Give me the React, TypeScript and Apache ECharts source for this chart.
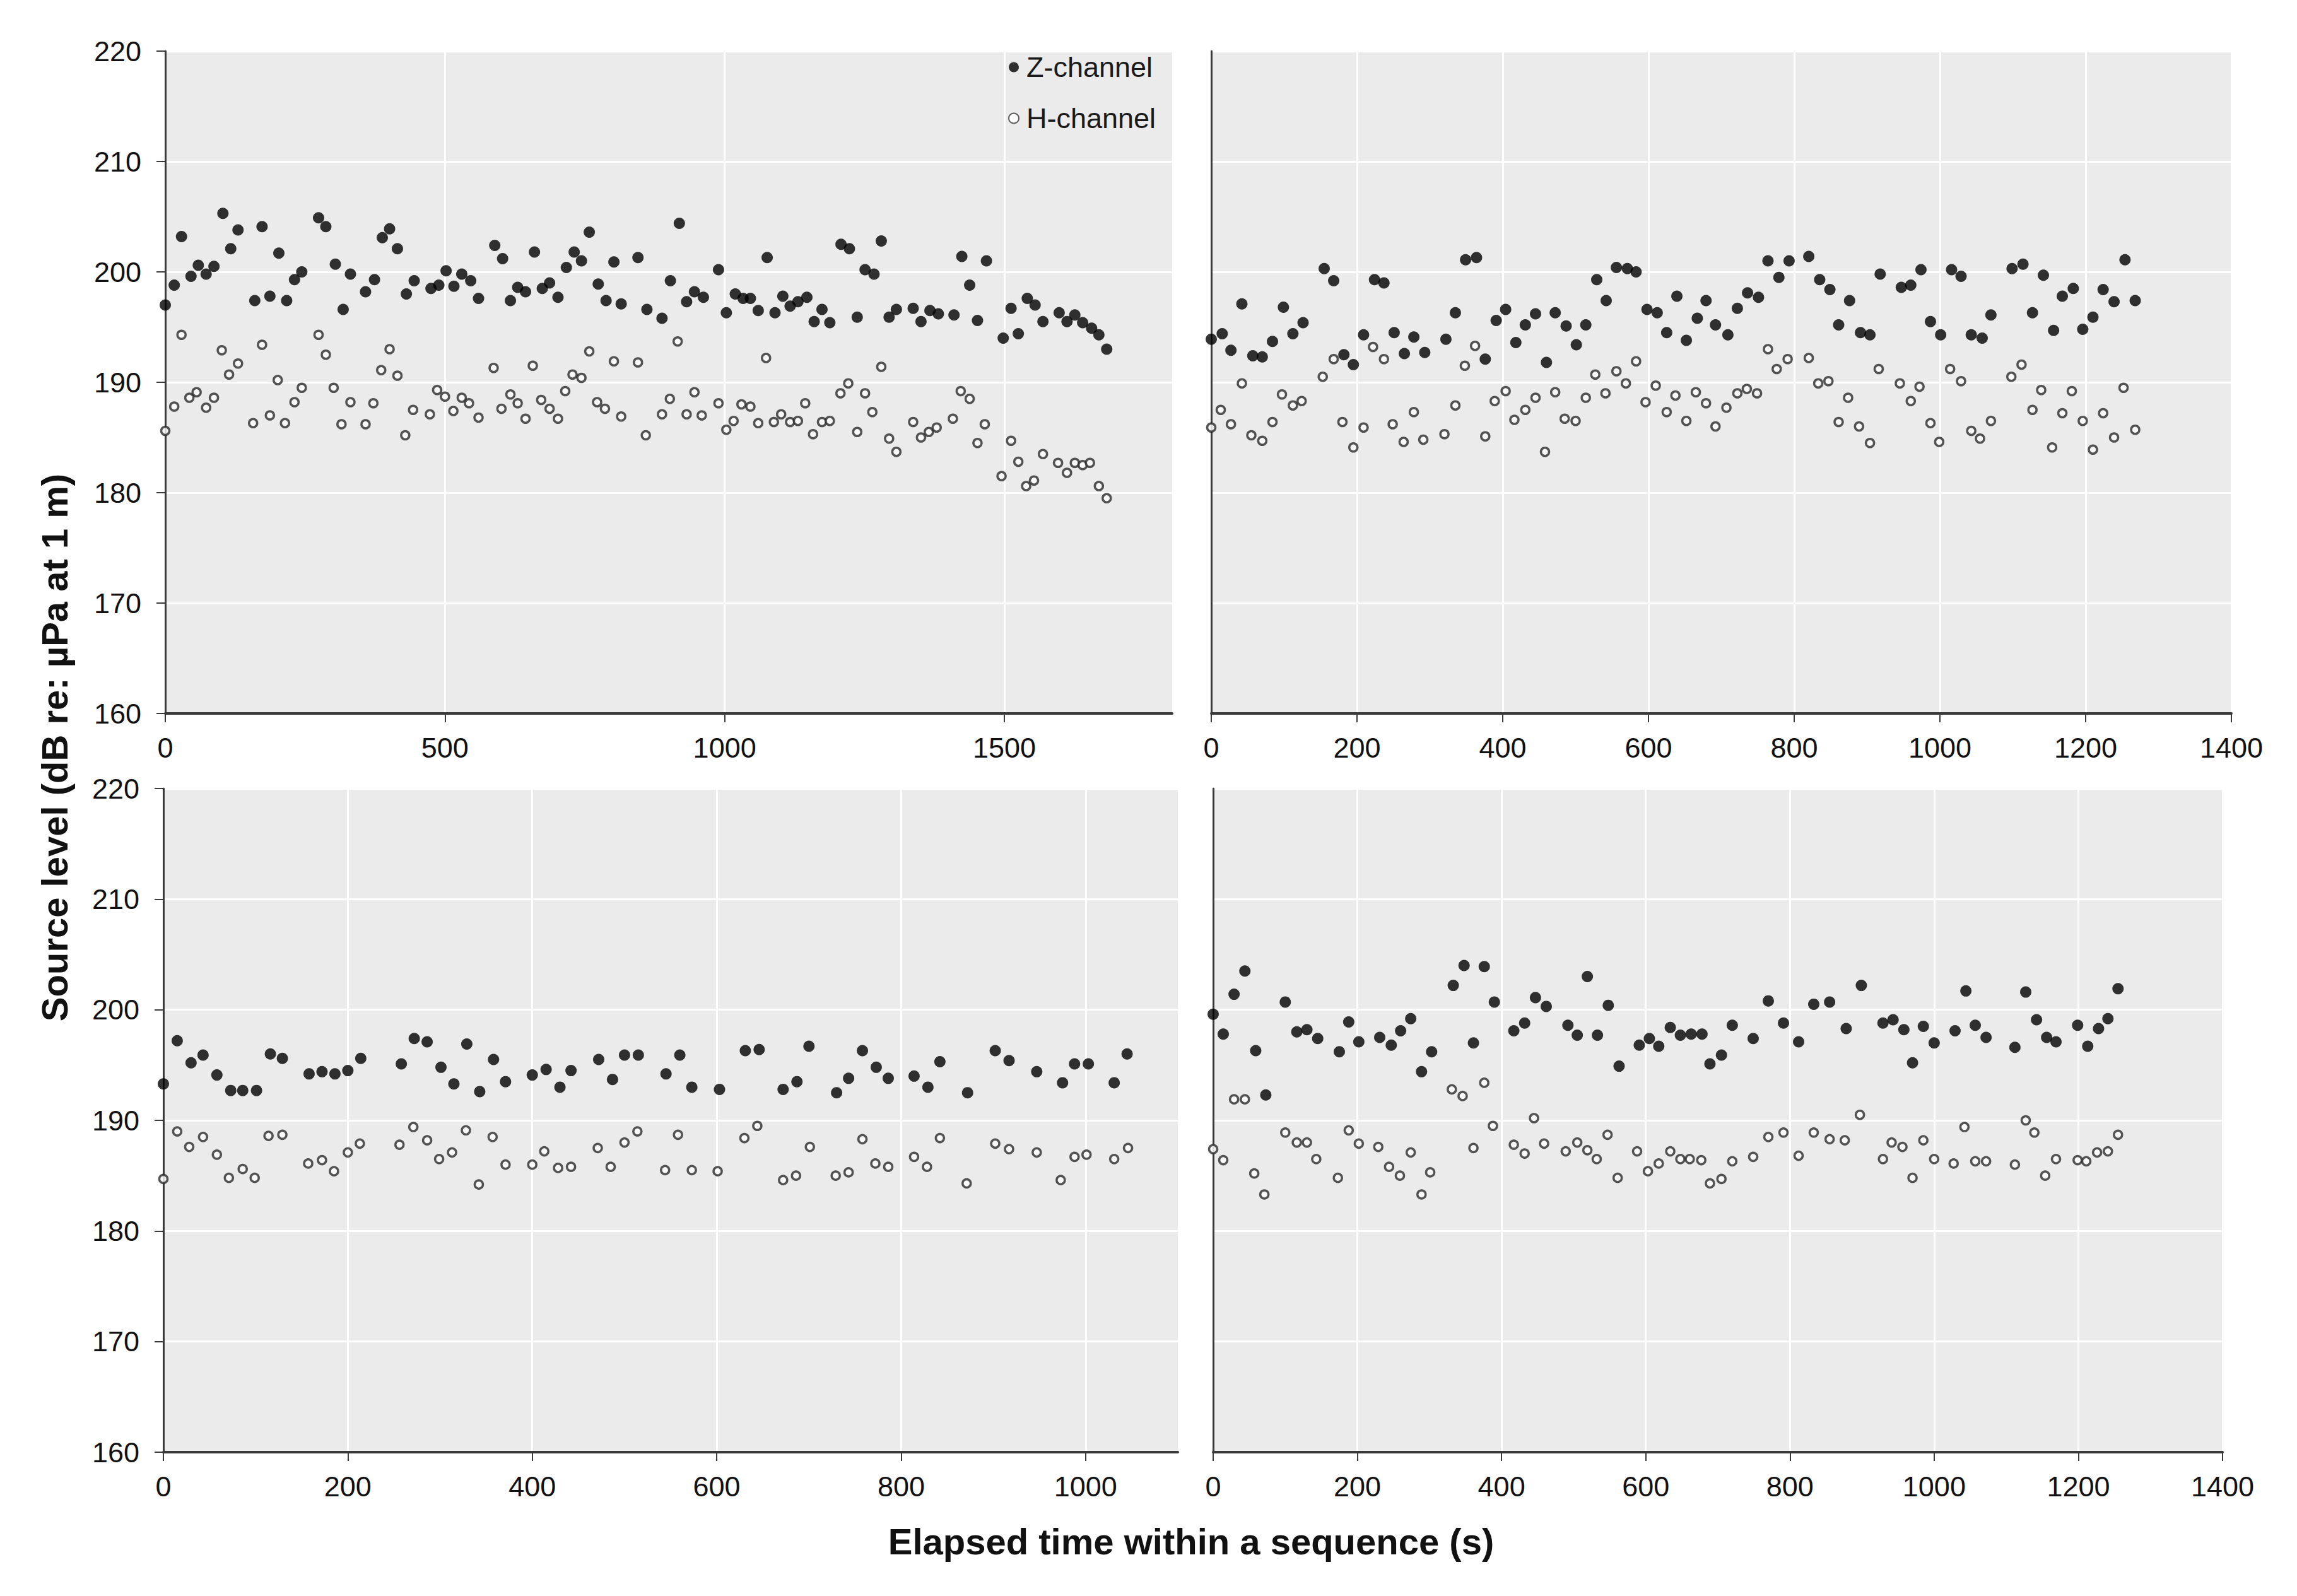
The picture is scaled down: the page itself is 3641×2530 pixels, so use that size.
import React, { useEffect, useRef } from 'react';
import * as echarts from 'echarts';

const FONT = '"Liberation Sans", Arial, Helvetica, sans-serif';

// Tick values
const yTicks = [160, 170, 180, 190, 200, 210, 220];
const xTicksTopLeft = [0, 500, 1000, 1500];
const xTicksTopRight = [0, 200, 400, 600, 800, 1000, 1200, 1400];
const xTicksBottomLeft = [0, 200, 400, 600, 800, 1000];
const xTicksBottomRight = [0, 200, 400, 600, 800, 1000, 1200, 1400];

const seriesNames = ['Z-channel', 'H-channel'];
const xTitle = 'Elapsed time within a sequence (s)';
const yTitle = 'Source level (dB re: µPa at 1 m)';

// Panel 1 (top-left)
const zTopLeft: [number, number][] = [
  [0,197.0],[16,198.8],[29,203.2],[46,199.6],[59,200.6],[73,199.8],[87,200.5],[103,205.3],[117,202.1],[130,203.8],[160,197.4],[173,204.1],[187,197.8],[203,201.7],[217,197.4],[231,199.3],[244,200.0],[274,204.9],[287,204.1],[304,200.7],[318,196.6],[331,199.8],[358,198.2],[374,199.3],[388,203.1],[401,203.9],[415,202.1],[431,198.0],[445,199.2],[475,198.5],[489,198.8],[502,200.1],[516,198.7],[530,199.8],[546,199.2],[560,197.6],[589,202.4],[603,201.2],[617,197.4],[630,198.6],[644,198.2],[660,201.8],[674,198.5],[687,199.0],[702,197.7],[717,200.4],[731,201.8],[744,201.0],[758,203.6],[774,198.9],[788,197.4],[802,200.9],[815,197.1],[845,201.3],[861,196.6],[888,195.8],[903,199.2],[919,204.4],[932,197.3],[946,198.2],[962,197.7],[989,200.2],[1003,196.3],[1019,198.0],[1033,197.6],[1046,197.6],[1060,196.5],[1076,201.3],[1090,196.3],[1104,197.8],[1117,196.9],[1131,197.3],[1147,197.7],[1160,195.5],[1174,196.6],[1188,195.4],[1208,202.5],[1223,202.1],[1237,195.9],[1251,200.2],[1267,199.8],[1280,202.8],[1294,195.9],[1307,196.6],[1337,196.7],[1351,195.5],[1367,196.5],[1382,196.2],[1410,196.1],[1424,201.4],[1438,198.8],[1452,195.6],[1468,201.0],[1498,194.0],[1512,196.7],[1525,194.4],[1541,197.6],[1555,197.0],[1569,195.5],[1598,196.3],[1612,195.5],[1626,196.1],[1640,195.4],[1656,194.9],[1669,194.3],[1683,193.0]
];
const hTopLeft: [number, number][] = [
  [0,185.6],[16,187.8],[29,194.3],[43,188.6],[56,189.1],[73,187.7],[87,188.6],[101,192.9],[114,190.7],[130,191.7],[157,186.3],[173,193.4],[187,187.0],[201,190.2],[214,186.3],[231,188.2],[244,189.5],[274,194.3],[287,192.5],[301,189.5],[315,186.2],[331,188.2],[358,186.2],[372,188.1],[386,191.1],[401,193.0],[415,190.6],[429,185.2],[443,187.5],[473,187.1],[486,189.3],[500,188.7],[515,187.4],[530,188.6],[543,188.1],[560,186.8],[587,191.3],[601,187.6],[617,188.9],[630,188.1],[644,186.7],[657,191.5],[672,188.4],[687,187.6],[702,186.7],[715,189.2],[728,190.7],[744,190.4],[758,192.8],[772,188.2],[786,187.6],[802,191.9],[815,186.9],[845,191.8],[859,185.2],[888,187.1],[902,188.5],[916,193.7],[932,187.1],[946,189.1],[959,187.0],[989,188.1],[1003,185.7],[1016,186.5],[1030,188.0],[1046,187.8],[1060,186.3],[1074,192.2],[1088,186.4],[1101,187.1],[1117,186.4],[1131,186.5],[1144,188.1],[1158,185.3],[1174,186.4],[1188,186.5],[1207,189.0],[1221,189.9],[1237,185.5],[1251,189.0],[1264,187.3],[1280,191.4],[1294,184.9],[1307,183.7],[1337,186.4],[1351,185.0],[1365,185.5],[1379,185.9],[1408,186.7],[1422,189.2],[1438,188.5],[1452,184.5],[1465,186.2],[1495,181.5],[1512,184.7],[1525,182.8],[1539,180.6],[1553,181.1],[1569,183.5],[1596,182.7],[1612,181.8],[1626,182.7],[1640,182.5],[1653,182.7],[1669,180.6],[1683,179.5]
];

// Panel 2 (top-right)
const zTopRight: [number, number][] = [
  [0,193.9],[15,194.4],[27,192.9],[42,197.1],[57,192.4],[70,192.3],[84,193.7],[99,196.8],[112,194.4],[126,195.4],[155,200.3],[168,199.2],[182,192.5],[195,191.6],[209,194.3],[224,199.3],[237,199.0],[251,194.5],[265,192.6],[278,194.1],[293,192.7],[322,193.9],[335,196.3],[349,201.1],[364,201.3],[376,192.1],[391,195.6],[404,196.6],[418,193.6],[431,195.2],[445,196.2],[460,191.8],[472,196.3],[487,195.1],[501,193.4],[514,195.2],[529,199.3],[542,197.4],[556,200.4],[571,200.3],[583,200.0],[598,196.6],[612,196.3],[625,194.5],[639,197.8],[652,193.8],[667,195.8],[679,197.4],[692,195.2],[709,194.3],[722,196.7],[736,198.1],[751,197.7],[764,201.0],[779,199.5],[793,201.0],[820,201.4],[835,199.3],[849,198.4],[861,195.2],[876,197.4],[891,194.5],[904,194.3],[918,199.8],[947,198.6],[960,198.8],[974,200.2],[987,195.5],[1001,194.3],[1016,200.2],[1029,199.6],[1043,194.3],[1058,194.0],[1070,196.1],[1099,200.3],[1114,200.7],[1127,196.3],[1142,199.7],[1156,194.7],[1168,197.8],[1183,198.5],[1196,194.8],[1210,195.9],[1224,198.4],[1239,197.3],[1254,201.1],[1268,197.4]
];
const hTopRight: [number, number][] = [
  [0,185.9],[13,187.5],[27,186.2],[42,189.9],[55,185.2],[70,184.7],[84,186.4],[97,188.9],[112,187.9],[124,188.3],[153,190.5],[168,192.1],[180,186.4],[195,184.1],[209,185.9],[222,193.2],[237,192.1],[249,186.2],[264,184.6],[278,187.3],[291,184.8],[320,185.3],[335,187.9],[348,191.5],[362,193.3],[376,185.1],[389,188.3],[404,189.2],[416,186.6],[431,187.5],[445,188.6],[458,183.7],[472,189.1],[485,186.7],[500,186.5],[514,188.6],[527,190.7],[541,189.0],[556,191.0],[569,189.9],[583,191.9],[596,188.2],[610,189.7],[625,187.3],[637,188.8],[652,186.5],[665,189.1],[679,188.1],[692,186.0],[707,187.7],[722,189.0],[735,189.4],[749,189.0],[764,193.0],[776,191.2],[791,192.1],[820,192.2],[833,189.9],[847,190.1],[861,186.4],[874,188.6],[889,186.0],[904,184.5],[916,191.2],[945,189.9],[960,188.3],[972,189.6],[987,186.3],[999,184.6],[1014,191.2],[1029,190.1],[1043,185.6],[1055,184.9],[1070,186.5],[1098,190.5],[1112,191.6],[1127,187.5],[1139,189.3],[1154,184.1],[1168,187.2],[1181,189.2],[1196,186.5],[1210,183.9],[1224,187.2],[1239,185.0],[1252,189.5],[1268,185.7]
];

// Panel 3 (bottom-left)
const zBottomLeft: [number, number][] = [
  [0,193.3],[15,197.2],[30,195.2],[43,195.9],[58,194.1],[73,192.7],[86,192.7],[101,192.7],[116,196.0],[129,195.6],[158,194.2],[172,194.4],[186,194.2],[200,194.5],[214,195.6],[258,195.1],[272,197.4],[286,197.1],[301,194.8],[315,193.3],[329,196.9],[343,192.6],[358,195.5],[371,193.5],[400,194.1],[415,194.6],[430,193.0],[442,194.5],[472,195.5],[487,193.7],[500,195.9],[515,195.9],[545,194.2],[560,195.9],[573,193.0],[603,192.8],[631,196.3],[646,196.4],[672,192.8],[687,193.5],[700,196.7],[730,192.5],[743,193.8],[758,196.3],[773,194.8],[786,193.8],[814,194.0],[829,193.0],[842,195.3],[872,192.5],[902,196.3],[917,195.4],[947,194.4],[975,193.4],[988,195.1],[1003,195.1],[1031,193.4],[1045,196.0]
];
const hBottomLeft: [number, number][] = [
  [0,184.7],[15,189.0],[28,187.6],[43,188.5],[58,186.9],[71,184.8],[86,185.6],[99,184.8],[114,188.6],[129,188.7],[157,186.1],[172,186.4],[185,185.4],[200,187.1],[213,187.9],[256,187.8],[271,189.4],[286,188.2],[299,186.5],[313,187.1],[328,189.1],[342,184.2],[357,188.5],[371,186.0],[400,186.0],[413,187.2],[428,185.7],[442,185.8],[471,187.5],[485,185.8],[500,188.0],[514,189.0],[544,185.5],[558,188.7],[573,185.5],[601,185.4],[630,188.4],[644,189.5],[672,184.6],[686,185.0],[701,187.6],[729,185.0],[743,185.3],[758,188.3],[772,186.1],[786,185.8],[814,186.7],[828,185.8],[842,188.4],[871,184.3],[902,187.9],[917,187.4],[947,187.1],[973,184.6],[988,186.7],[1001,186.9],[1031,186.5],[1046,187.5]
];

// Panel 4 (bottom-right)
const zBottomRight: [number, number][] = [
  [0,199.6],[14,197.8],[29,201.4],[44,203.5],[59,196.3],[73,192.3],[100,200.7],[116,198.0],[130,198.2],[145,197.4],[175,196.2],[188,198.9],[202,197.1],[231,197.5],[247,196.8],[260,198.1],[274,199.2],[289,194.4],[303,196.2],[333,202.2],[348,204.0],[361,197.0],[376,203.9],[390,200.7],[417,198.1],[432,198.8],[447,201.1],[462,200.3],[492,198.6],[505,197.7],[519,203.0],[533,197.7],[548,200.4],[563,194.9],[591,196.8],[605,197.4],[618,196.7],[634,198.4],[648,197.7],[663,197.8],[678,197.8],[689,195.1],[705,195.9],[720,198.6],[749,197.4],[770,200.8],[791,198.8],[812,197.1],[833,200.5],[855,200.7],[878,198.3],[899,202.2],[929,198.8],[943,199.1],[958,198.2],[970,195.2],[985,198.5],[1000,197.0],[1029,198.1],[1044,201.7],[1057,198.6],[1072,197.5],[1112,196.6],[1127,201.6],[1142,199.1],[1156,197.5],[1169,197.1],[1199,198.6],[1213,196.7],[1228,198.3],[1241,199.2],[1255,201.9]
];
const hBottomRight: [number, number][] = [
  [0,187.4],[14,186.4],[29,191.9],[44,191.9],[57,185.2],[71,183.3],[100,188.9],[116,188.0],[130,188.0],[143,186.5],[173,184.8],[188,189.1],[202,187.9],[229,187.6],[244,185.8],[259,185.0],[274,187.1],[289,183.3],[301,185.3],[331,192.8],[346,192.2],[361,187.5],[376,193.4],[388,189.5],[417,187.8],[432,187.0],[445,190.2],[459,187.9],[489,187.2],[505,188.0],[519,187.3],[532,186.5],[547,188.7],[561,184.8],[588,187.2],[603,185.4],[618,186.1],[634,187.2],[648,186.5],[661,186.5],[677,186.4],[689,184.3],[705,184.7],[720,186.3],[749,186.7],[770,188.5],[791,188.9],[812,186.8],[833,188.9],[855,188.3],[876,188.2],[897,190.5],[929,186.5],[941,188.0],[956,187.6],[970,184.8],[985,188.2],[1000,186.5],[1027,186.1],[1042,189.4],[1057,186.3],[1072,186.3],[1112,186.0],[1127,190.0],[1139,188.9],[1154,185.0],[1169,186.5],[1199,186.4],[1211,186.3],[1226,187.1],[1241,187.2],[1255,188.7]
];

const AXIS_COLOR = '#3a3a3a';
const LABEL_COLOR = '#111111';
const plainNumber = (v: number) => String(v);

function makeXAxis(gridIndex: number, max: number, interval: number, ticks: number[]) {
  return {
    type: 'value',
    gridIndex,
    min: 0,
    max,
    interval,
    axisLine: { show: true, onZero: false, lineStyle: { color: AXIS_COLOR, width: 4 } },
    axisTick: { show: true, length: 14, customValues: ticks, lineStyle: { color: AXIS_COLOR, width: 2 } },
    axisLabel: { customValues: ticks, formatter: plainNumber, fontSize: 45, fontFamily: FONT, color: LABEL_COLOR, margin: 32 },
    splitLine: { show: true, lineStyle: { color: '#ffffff', width: 3 } },
  };
}

function makeYAxis(gridIndex: number, showLabels: boolean) {
  return {
    type: 'value',
    gridIndex,
    min: yTicks[0],
    max: yTicks[yTicks.length - 1],
    interval: 10,
    axisLine: { show: true, onZero: false, lineStyle: { color: AXIS_COLOR, width: 3 } },
    axisTick: { show: showLabels, length: 14, lineStyle: { color: AXIS_COLOR, width: 2 } },
    axisLabel: { show: showLabels, formatter: plainNumber, fontSize: 45, fontFamily: FONT, color: LABEL_COLOR, margin: 38 },
    splitLine: { show: true, lineStyle: { color: '#ffffff', width: 3 } },
  };
}

function zSeries(data: [number, number][], idx: number) {
  return {
    type: 'scatter',
    name: seriesNames[0],
    xAxisIndex: idx,
    yAxisIndex: idx,
    data,
    symbol: 'circle',
    symbolSize: 18,
    itemStyle: { color: '#000000' },
    z: 3,
  };
}

function hSeries(data: [number, number][], idx: number) {
  return {
    type: 'scatter',
    name: seriesNames[1],
    xAxisIndex: idx,
    yAxisIndex: idx,
    data,
    symbol: 'circle',
    symbolSize: 13,
    itemStyle: { color: '#ffffff', borderColor: '#2a2a2a', borderWidth: 3.5 },
    z: 3,
  };
}

export default function App() {
  const ref = useRef<HTMLDivElement>(null);

  useEffect(() => {
    if (!ref.current) return;
    const chart = echarts.init(ref.current, undefined, { renderer: 'svg' });
    const gridBase = { show: true, backgroundColor: '#ebebeb', borderWidth: 0, containLabel: false };
    chart.setOption({
      animation: false,
      backgroundColor: '#ffffff',
      grid: [
        { ...gridBase, left: 262, top: 81, width: 1596, height: 1050 },
        { ...gridBase, left: 1920, top: 81, width: 1617, height: 1050 },
        { ...gridBase, left: 259, top: 1250, width: 1608, height: 1052 },
        { ...gridBase, left: 1923, top: 1250, width: 1600, height: 1052 },
      ],
      xAxis: [
        makeXAxis(0, 1800, 500, xTicksTopLeft),
        makeXAxis(1, 1400, 200, xTicksTopRight),
        makeXAxis(2, 1100, 200, xTicksBottomLeft),
        makeXAxis(3, 1400, 200, xTicksBottomRight),
      ],
      yAxis: [
        makeYAxis(0, true),
        makeYAxis(1, false),
        makeYAxis(2, true),
        makeYAxis(3, false),
      ],
      legend: {
        orient: 'vertical',
        left: 1598,
        top: 84,
        padding: 0,
        itemWidth: 30,
        itemHeight: 16,
        itemGap: 36,
        textStyle: { fontSize: 45, fontFamily: FONT, color: '#1a1a1a' },
        data: [
          { name: seriesNames[0], icon: 'circle', itemStyle: { color: '#000000' } },
          { name: seriesNames[1], icon: 'circle', itemStyle: { color: '#ffffff', borderColor: '#333333', borderWidth: 2 } },
        ],
      },
      graphic: [
        {
          type: 'text',
          x: 1888,
          y: 2443,
          style: {
            text: xTitle,
            fontSize: 58,
            fontWeight: 'bold',
            fontFamily: FONT,
            fill: '#111111',
            textAlign: 'center',
            textVerticalAlign: 'middle',
          },
        },
        {
          type: 'text',
          x: 86,
          y: 1185,
          rotation: Math.PI / 2,
          style: {
            text: yTitle,
            fontSize: 58,
            fontWeight: 'bold',
            fontFamily: FONT,
            fill: '#111111',
            textAlign: 'center',
            textVerticalAlign: 'middle',
          },
        },
      ],
      series: [
        zSeries(zTopLeft, 0),
        hSeries(hTopLeft, 0),
        zSeries(zTopRight, 1),
        hSeries(hTopRight, 1),
        zSeries(zBottomLeft, 2),
        hSeries(hBottomLeft, 2),
        zSeries(zBottomRight, 3),
        hSeries(hBottomRight, 3),
      ],
    });
    return () => {
      chart.dispose();
    };
  }, []);

  return (
    <div
      ref={ref}
      style={{ position: 'absolute', left: 0, top: 0, width: 3641, height: 2530, background: '#ffffff' }}
    />
  );
}
